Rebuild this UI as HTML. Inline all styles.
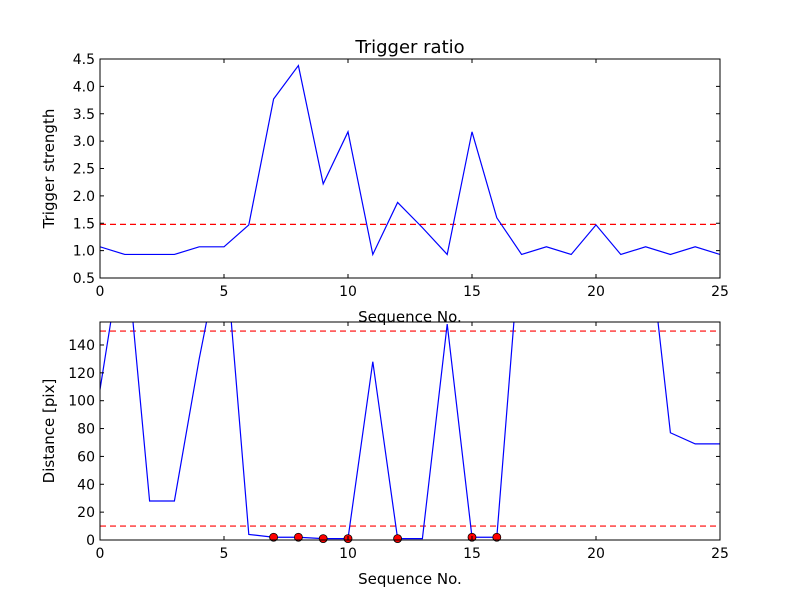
<!DOCTYPE html>
<html><head><meta charset="utf-8"><style>body{margin:0;background:#fff}svg{display:block;font-family:"DejaVu Sans","Liberation Sans",sans-serif}</style></head>
<body>
<svg id="chart" width="800" height="600" xmlns="http://www.w3.org/2000/svg">
<rect width="800" height="600" fill="#fff"/>
<defs>
<clipPath id="c1"><rect x="100" y="59" width="620" height="219"/></clipPath>
<clipPath id="c2"><rect x="100" y="322" width="620" height="218"/></clipPath>
</defs>
<g id="g"></g>
</svg>
<script>
const seq = [0,1,2,3,4,5,6,7,8,9,10,11,12,13,14,15,16,17,18,19,20,21,22,23,24,25];
const strength = [1.07,0.93,0.93,0.93,1.07,1.07,1.47,3.77,4.38,2.22,3.17,0.93,1.88,1.42,0.93,3.17,1.6,0.93,1.07,0.93,1.47,0.93,1.07,0.93,1.07,0.93];
const strengthThreshold = [1.48];
const distance = [108,220,28,28,130,220,4,2,2,1,1,128,1,1,155,2,2,226,230,230,230,230,236,77,69,69];
const distanceThresholds = [150,10];
const markedIdx = [7,8,9,10,12,15,16];
const xTicks = [0,5,10,15,20,25];
const yTicksTop = [0.5,1.0,1.5,2.0,2.5,3.0,3.5,4.0,4.5];
const yTicksBot = [0,20,40,60,80,100,120,140];

const NS="http://www.w3.org/2000/svg";
const g=document.getElementById('g');
function el(t,a,p){const e=document.createElementNS(NS,t);for(const k in a)e.setAttribute(k,a[k]);(p||g).appendChild(e);return e;}
function panel(o){
  const X=v=>o.x0+(v-0)/(25-0)*(o.x1-o.x0);
  const Y=v=>o.y1-(v-o.ymin)/(o.ymax-o.ymin)*(o.y1-o.y0);
  const grp=el('g',{});
  
  
  const cg=el('g',{'clip-path':'url(#'+o.clip+')'},grp);
  o.thr.forEach(t=>{const l=el('line',{x1:o.x0,x2:o.x1,y1:Y(t),y2:Y(t),stroke:'#f00','stroke-width':1.2,'stroke-dasharray':'6,4'},cg);
    });
  const pl=el('polyline',{points:o.data.map((v,i)=>X(seq[i])+','+Y(v)).join(' '),fill:'none',stroke:'#00f','stroke-width':1.2},cg);
  
  (o.marks||[]).forEach(i=>{const c=el('circle',{cx:X(seq[i]),cy:Y(o.data[i]),r:4,fill:'#f00',stroke:'#000','stroke-width':0.8},grp);
    });
  const fr=el('rect',{x:o.x0,y:o.y0,width:o.x1-o.x0,height:o.y1-o.y0,fill:'none',stroke:'#000','stroke-width':1},grp);
  
  xTicks.forEach(t=>{const x=X(t);
    el('line',{x1:x,x2:x,y1:o.y1,y2:o.y1-4,stroke:'#000'},grp);el('line',{x1:x,x2:x,y1:o.y0,y2:o.y0+4,stroke:'#000'},grp);
    const tx=el('text',{x:x,y:o.y1+18,'text-anchor':'middle','font-size':14},grp);tx.textContent=t;
    });
  o.yt.forEach(t=>{const y=Y(t);
    el('line',{x1:o.x0,x2:o.x0+4,y1:y,y2:y,stroke:'#000'},grp);el('line',{x1:o.x1,x2:o.x1-4,y1:y,y2:y,stroke:'#000'},grp);
    const tx=el('text',{x:o.x0-5,y:y+5,'text-anchor':'end','font-size':14},grp);tx.textContent=o.fmt(t);
    });
  const xl=el('text',{x:(o.x0+o.x1)/2,y:o.y1+44,'text-anchor':'middle','font-size':15},grp);xl.textContent='Sequence No.';
  
  const cy=(o.y0+o.y1)/2;
  const yl=el('text',{x:0,y:0,'text-anchor':'middle','font-size':15,transform:'translate('+(o.x0-46)+','+cy+') rotate(-90)'},grp);yl.textContent=o.ylabel;
  
}
panel({name:'trigger-strength-panel',clip:'c1',x0:100,x1:720,y0:59,y1:278,ymin:0.5,ymax:4.5,data:strength,thr:strengthThreshold,yt:yTicksTop,fmt:t=>t.toFixed(1),ylabel:'Trigger strength'});
panel({name:'distance-panel',clip:'c2',x0:100,x1:720,y0:322,y1:540,ymin:0,ymax:156.5,data:distance,thr:distanceThresholds,marks:markedIdx,yt:yTicksBot,fmt:t=>t,ylabel:'Distance [pix]'});
const ti=el('text',{x:410,y:53,'text-anchor':'middle','font-size':18});ti.textContent='Trigger ratio';

</script>
</body></html>
